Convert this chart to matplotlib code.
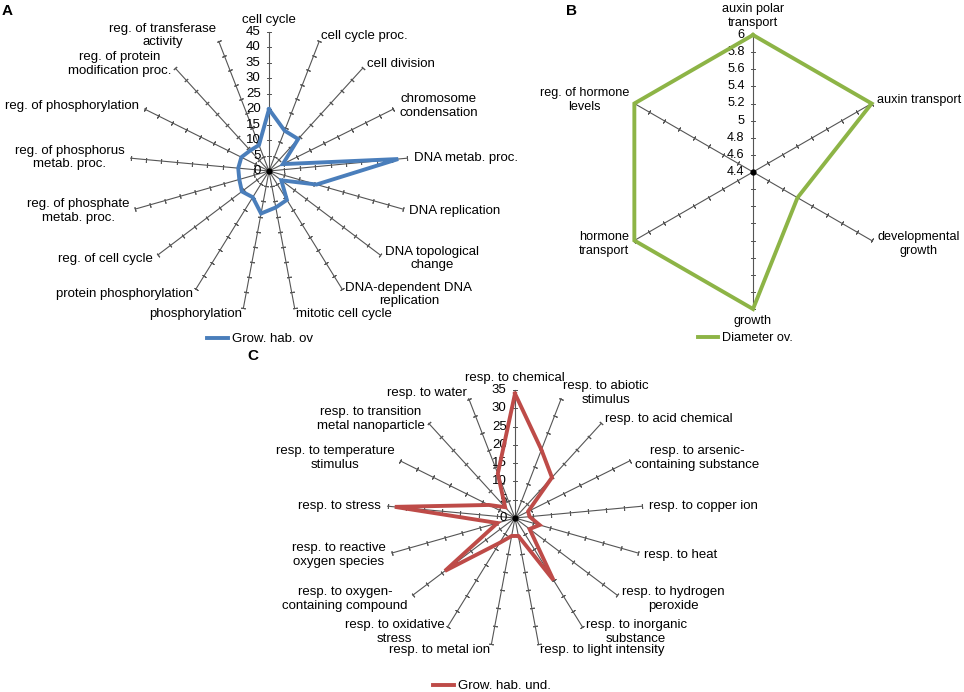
import numpy as np
import matplotlib
matplotlib.use("Agg")
import matplotlib.pyplot as plt
from matplotlib.lines import Line2D

plt.rcParams['font.family'] = ['Liberation Sans', 'DejaVu Sans']

# ---------------- data ----------------
A_cats = ['cell cycle', 'cell cycle proc.', 'cell division', 'chromosome\ncondensation',
          'DNA metab. proc.', 'DNA replication', 'DNA topological\nchange',
          'DNA-dependent DNA\nreplication', 'mitotic cell cycle', 'phosphorylation',
          'protein phosphorylation', 'reg. of cell cycle', 'reg. of phosphate\nmetab. proc.',
          'reg. of phosphorus\nmetab. proc.', 'reg. of phosphorylation',
          'reg. of protein\nmodification proc.', 'reg. of transferase\nactivity']
A_vals = [20, 14, 14, 5, 42, 16, 5, 11, 12, 14, 10, 11, 10, 10, 10, 9, 9]
A_ticks = [0, 5, 10, 15, 20, 25, 30, 35, 40, 45]
A_ticklabels = ['0', '5', '10', '15', '20', '25', '30', '35', '40', '45']
A_series = 'Grow. hab. ov'

B_cats = ['auxin polar\ntransport', 'auxin transport', 'developmental\ngrowth', 'growth',
          'hormone\ntransport', 'reg. of hormone\nlevels']
B_vals = [6, 6, 5.0, 6, 6, 6]
B_ticks = [4.4, 4.6, 4.8, 5.0, 5.2, 5.4, 5.6, 5.8, 6.0]
B_ticklabels = ['4.4', '4.6', '4.8', '5', '5.2', '5.4', '5.6', '5.8', '6']
B_series = 'Diameter ov.'

C_cats = ['resp. to chemical', 'resp. to abiotic\nstimulus', 'resp. to acid chemical',
          'resp. to arsenic-\ncontaining substance', 'resp. to copper ion', 'resp. to heat',
          'resp. to hydrogen\nperoxide', 'resp. to inorganic\nsubstance',
          'resp. to light intensity', 'resp. to metal ion', 'resp. to oxidative\nstress',
          'resp. to oxygen-\ncontaining compound', 'resp. to reactive\noxygen species',
          'resp. to stress', 'resp. to temperature\nstimulus',
          'resp. to transition\nmetal nanoparticle', 'resp. to water']
C_vals = [34, 20, 15, 4, 4, 7, 5, 20, 5, 5, 8, 24, 5, 33, 8, 4, 13]
C_ticks = [0, 5, 10, 15, 20, 25, 30, 35]
C_ticklabels = ['0', '5', '10', '15', '20', '25', '30', '35']
C_series = 'Grow. hab. und.'

W, H = 964, 692
SPOKE = '#555555'

fig = plt.figure(figsize=(W / 100, H / 100), dpi=100)
fig.patch.set_facecolor('white')


def radar(cx, cy, R, cats, vals, ticks, ticklabels, color, series, legend_xy, fs):
    rect = [(cx - R) / W, 1 - (cy + R) / H, 2 * R / W, 2 * R / H]
    ax = fig.add_axes(rect, projection='polar')
    ax.set_theta_zero_location('N')
    ax.set_theta_direction(-1)
    rmin, rmax = ticks[0], ticks[-1]
    ax.set_ylim(rmin, rmax)
    ax.set_axis_off()
    n = len(cats)
    theta = np.arange(n) * 2 * np.pi / n
    for t in theta:
        ax.plot([t, t], [rmin, rmax], color=SPOKE, lw=0.8, clip_on=False, zorder=1)
        phi = 90 - np.degrees(t)
        ax.plot([t] * (len(ticks) - 1), ticks[1:], linestyle='none',
                marker=(2, 2, phi), ms=3.2, mew=0.7, mec=SPOKE, clip_on=False, zorder=1)
    # value labels on the first spoke
    for v, lab in zip(ticks, ticklabels):
        ax.annotate(lab, xy=(0, v), xytext=(-6, 0), textcoords='offset points',
                    ha='right', va='center', fontsize=fs, color='black',
                    annotation_clip=False)
    # category labels
    for t, lab in zip(theta, cats):
        s, c = np.sin(t), np.cos(t)
        if abs(s) < 0.05:
            ha = 'center'
            va = 'bottom' if c > 0 else 'top'
        else:
            ha = 'left' if s > 0 else 'right'
            va = 'center'
        ax.annotate(lab, xy=(t, rmax), xytext=(4.5 * s, 4.5 * c), textcoords='offset points',
                    ha=ha, va=va, multialignment='center', fontsize=fs, color='black',
                    annotation_clip=False)
    tt = np.append(theta, theta[0])
    vv = np.append(vals, vals[0])
    ax.plot(tt, vv, color=color, lw=2.8, clip_on=False, zorder=3,
            solid_joinstyle='miter')
    ax.plot([0], [rmin], 'o', color='black', ms=3.5, zorder=4, clip_on=False)
    fig.legend([Line2D([], [], color=color, lw=2.8)], [series], loc='center',
               bbox_to_anchor=(legend_xy[0] / W, 1 - legend_xy[1] / H),
               frameon=False, fontsize=fs, handlelength=1.6, handletextpad=0.3,
               borderpad=0.1)
    return ax


radar(269, 171, 139, A_cats, A_vals, A_ticks, A_ticklabels, '#4a7ebb', A_series, (260, 339), 9.5)
radar(753, 172, 137, B_cats, B_vals, B_ticks, B_ticklabels, '#8db446', B_series, (745, 338), 9.1)
radar(515, 518, 128, C_cats, C_vals, C_ticks, C_ticklabels, '#be4b48', C_series, (492, 686), 9.5)

fig.text(2 / W, 1 - 11 / H, 'A', fontsize=11, fontweight='bold', va='center', ha='left')
fig.text(566 / W, 1 - 11 / H, 'B', fontsize=11, fontweight='bold', va='center', ha='left')
fig.text(247 / W, 1 - 356 / H, 'C', fontsize=11, fontweight='bold', va='center', ha='left')

fig.savefig('out.png', dpi=100, facecolor='white')
